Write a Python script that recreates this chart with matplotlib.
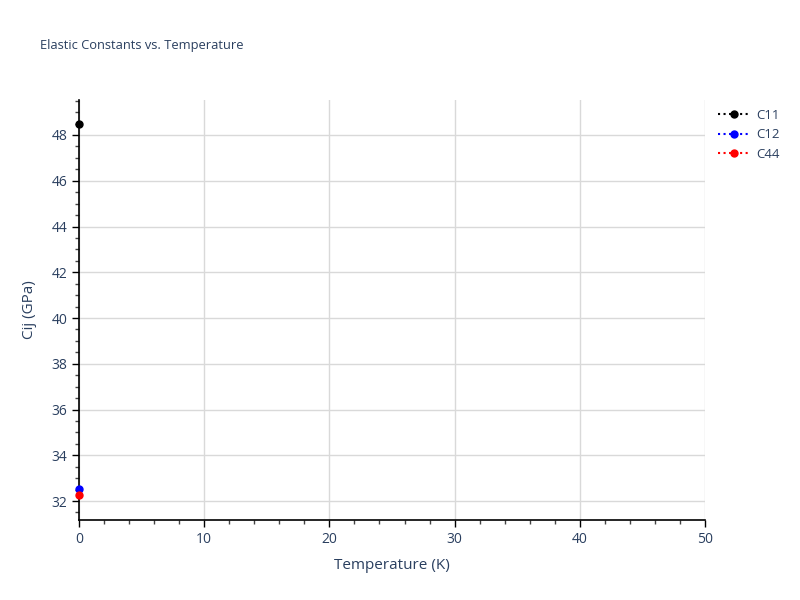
import numpy as np
import matplotlib.pyplot as plt
from matplotlib.ticker import MultipleLocator

plt.rcParams['font.family'] = ['Open Sans', 'DejaVu Sans']

# datos
temperatura = [0]
c11 = [48.48]
c12 = [32.52]
c44 = [32.27]

series = [("C11", c11, "black"), ("C12", c12, "blue"), ("C44", c44, "red")]
txt = "#2a3f5f"

fig = plt.figure(figsize=(8, 6), dpi=100)
ax = fig.add_axes([79 / 800, 80 / 600, 626 / 800, 420 / 600])

for nombre, vals, col in series:
    ax.plot(temperatura, vals, ":", color=col, marker="o", markersize=5,
            lw=1.5, label=nombre, clip_on=False, zorder=5)

ax.set_xlim(0, 50)
ax.set_ylim(31.17, 49.53)
ax.xaxis.set_major_locator(MultipleLocator(10))
ax.xaxis.set_minor_locator(MultipleLocator(2))
ax.yaxis.set_major_locator(MultipleLocator(2))
ax.yaxis.set_minor_locator(MultipleLocator(0.5))

ax.grid(True, which="major", color="#d9d9d9", lw=1)
ax.set_axisbelow(True)
for s in ["top", "right"]:
    ax.spines[s].set_visible(False)
for s in ["left", "bottom"]:
    ax.spines[s].set_color("black")
    ax.spines[s].set_linewidth(1.2)

ax.tick_params(which="major", direction="out", length=5, width=1,
               color="black", labelcolor=txt, labelsize=10)
ax.tick_params(which="minor", direction="out", length=3, width=1, color="#444444")

ax.set_xlabel("Temperature (K)", color=txt, fontsize=11, labelpad=8)
ax.set_ylabel("Cij (GPa)", color=txt, fontsize=11, labelpad=10)
fig.text(40 / 800, 1 - 45 / 600, "Elastic Constants vs. Temperature",
         color=txt, fontsize=9.3, va="center")

leg = ax.legend(loc="upper left", bbox_to_anchor=(1.008, 0.998), frameon=False,
                fontsize=9.5, labelcolor=txt, handlelength=2.4,
                handletextpad=0.5, borderaxespad=0.2)

fig.savefig("out.png", dpi=100)
